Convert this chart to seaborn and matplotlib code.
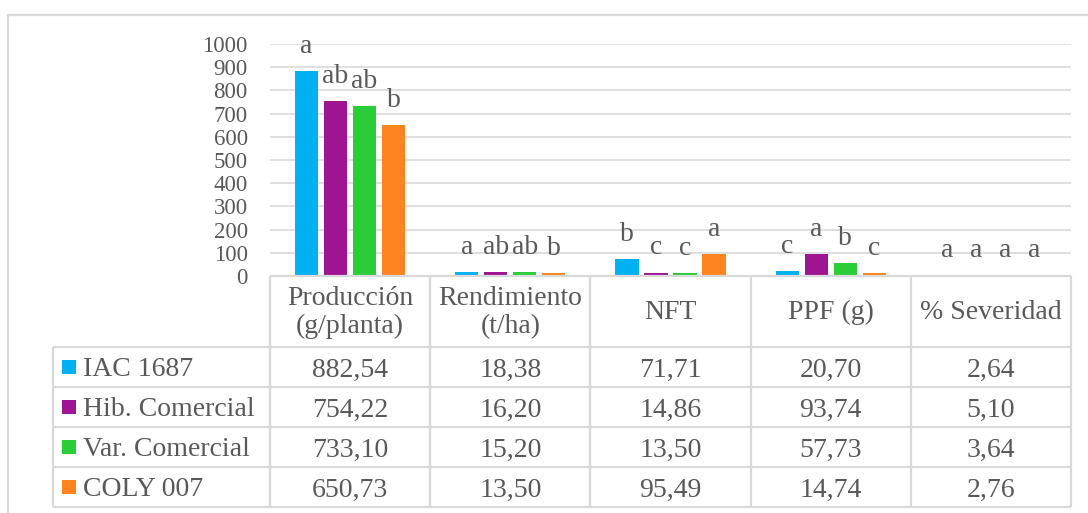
import matplotlib
matplotlib.use("Agg")
import matplotlib.pyplot as plt
from matplotlib.lines import Line2D
from matplotlib.patches import Rectangle
import seaborn as sns
import pandas as pd

# ---------------- data ----------------
variables = ["Producción\n(g/planta)", "Rendimiento\n(t/ha)", "NFT", "PPF (g)", "% Severidad"]
genotypes = ["IAC 1687", "Hib. Comercial", "Var. Comercial", "COLY 007"]
iac_1687 = [882.54, 18.38, 71.71, 20.70, 2.64]
hib_comercial = [754.22, 16.20, 14.86, 93.74, 5.10]
var_comercial = [733.10, 15.20, 13.50, 57.73, 3.64]
coly_007 = [650.73, 13.50, 95.49, 14.74, 2.76]
letters_iac = ["a", "a", "b", "c", "a"]
letters_hib = ["ab", "ab", "c", "a", "a"]
letters_var = ["ab", "ab", "c", "b", "a"]
letters_coly = ["b", "b", "a", "c", "a"]
colors = ["#00B0F0", "#9E1592", "#2ACD38", "#FD841F"]
y_ticks = [0, 100, 200, 300, 400, 500, 600, 700, 800, 900, 1000]

series = [iac_1687, hib_comercial, var_comercial, coly_007]
letters = [letters_iac, letters_hib, letters_var, letters_coly]

rows = []
for g, vals in zip(genotypes, series):
    for v, val in zip(variables, vals):
        rows.append({"variable": v, "genotipo": g, "valor": val})
df = pd.DataFrame(rows)

# ---------------- style ----------------
sns.set_theme(style="white")
plt.rcParams["font.family"] = ["Liberation Serif", "DejaVu Serif"]
TEXT = "#595959"
GRID = "#D9D9D9"

W, H = 1088, 513
fig = plt.figure(figsize=(W / 100, H / 100), dpi=100)
fig.patch.set_facecolor("white")


def fx(x):
    return x / W


def fy(y):
    return 1 - y / H


ax_l, ax_r, ax_t, ax_b = 270, 1071, 44, 276
ax = fig.add_axes([fx(ax_l), fy(ax_b), fx(ax_r) - fx(ax_l), fy(ax_t) - fy(ax_b)])

sns.barplot(data=df, x="variable", y="valor", hue="genotipo", order=variables,
            hue_order=genotypes, palette=colors, saturation=1, width=0.725, gap=0.2,
            legend=False, ax=ax, linewidth=0, errorbar=None)

ax.set_ylim(0, 1000)
ax.set_yticks(y_ticks)
ax.set_yticklabels([str(t) for t in y_ticks], fontsize=16.5, color=TEXT)
ax.tick_params(axis="y", length=0, pad=16)
ax.set_xticks([])
ax.set_xlabel("")
ax.set_ylabel("")
ax.grid(axis="y", color=GRID, linewidth=1.2)
ax.set_axisbelow(True)
for s in ax.spines.values():
    s.set_visible(False)

for cont, labs in zip(ax.containers, letters):
    for bar, lab in zip(cont, labs):
        ax.annotate(lab, xy=(bar.get_x() + bar.get_width() / 2, bar.get_height()),
                    xytext=(0, 13), textcoords="offset points", ha="center",
                    va="baseline", fontsize=20, color=TEXT)

# ---------------- data table ----------------
LW = 1.6
col_edges = [ax_l + i * (ax_r - ax_l) / len(variables) for i in range(len(variables) + 1)]
head_top, head_bot = ax_b, 347
row_h = 40
row_edges = [head_bot + i * row_h for i in range(len(genotypes) + 1)]
tbl_left = 53


def hline(x0, x1, y):
    fig.add_artist(Line2D([fx(x0), fx(x1)], [fy(y), fy(y)], transform=fig.transFigure,
                          color=GRID, linewidth=LW, solid_capstyle="butt"))


def vline(x, y0, y1):
    fig.add_artist(Line2D([fx(x), fx(x)], [fy(y0), fy(y1)], transform=fig.transFigure,
                          color=GRID, linewidth=LW, solid_capstyle="butt"))


hline(ax_l, ax_r, head_top)
for y in row_edges:
    hline(tbl_left, ax_r, y)
for x in col_edges:
    vline(x, head_top, row_edges[-1])
vline(tbl_left, head_bot, row_edges[-1])

for i, v in enumerate(variables):
    cx = (col_edges[i] + col_edges[i + 1]) / 2
    fig.text(fx(cx), fy((head_top + head_bot) / 2 + 1), v, ha="center", va="center",
             fontsize=20, color=TEXT, linespacing=1.15)

for r, (g, vals, c) in enumerate(zip(genotypes, series, colors)):
    cy = (row_edges[r] + row_edges[r + 1]) / 2
    fig.add_artist(Rectangle((fx(62), fy(cy + 7)), 14 / W, 14 / H,
                             transform=fig.transFigure, facecolor=c, edgecolor="none"))
    fig.text(fx(83), fy(cy), g, ha="left", va="center_baseline", fontsize=20, color=TEXT)
    for i, val in enumerate(vals):
        cx = (col_edges[i] + col_edges[i + 1]) / 2
        fig.text(fx(cx), fy(cy), f"{val:.2f}".replace(".", ","), ha="center",
                 va="center_baseline", fontsize=20, color=TEXT)

# chart area border
fig.add_artist(Line2D([fx(8), fx(W)], [fy(15), fy(15)], transform=fig.transFigure,
                      color=GRID, linewidth=LW))
fig.add_artist(Line2D([fx(8), fx(8)], [fy(15), fy(H)], transform=fig.transFigure,
                      color=GRID, linewidth=LW))

fig.savefig("out.png", dpi=100, facecolor="white")
